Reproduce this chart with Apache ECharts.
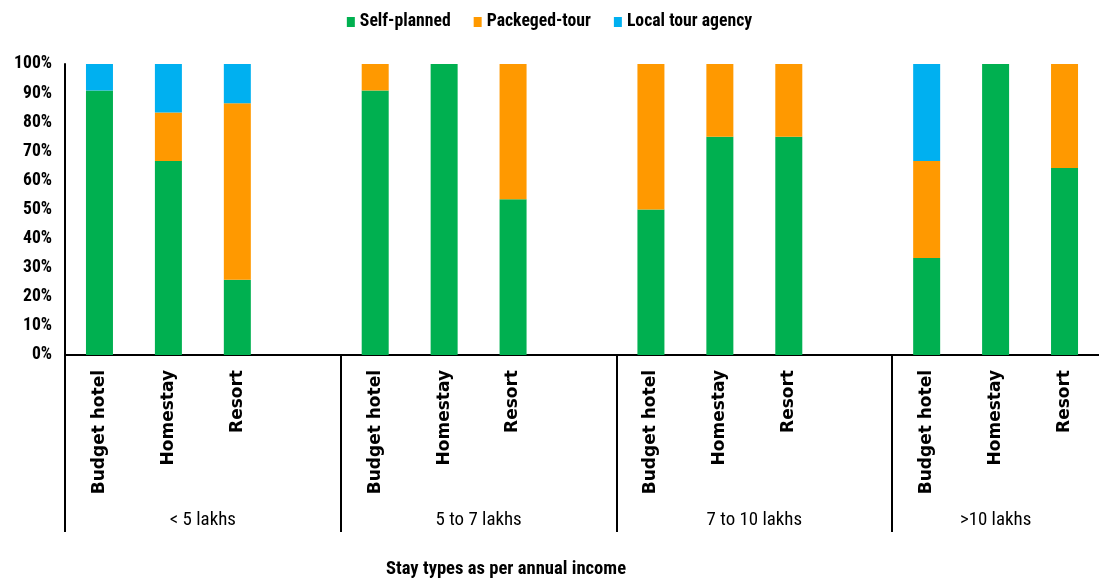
<!DOCTYPE html>
<html>
<head>
<meta charset="utf-8">
<title>Stay types as per annual income</title>
<script src="https://cdn.jsdelivr.net/npm/echarts@6/dist/echarts.min.js"></script>
<style>
  html, body { margin: 0; padding: 0; background: #fff; }
  #chart { width: 1099px; height: 583px; }
</style>
</head>
<body>
<div id="chart"></div>
<script>
// Income brackets and the stay types surveyed inside each bracket
const incomeGroups = ['< 5 lakhs', '5 to 7 lakhs', '7 to 10 lakhs', '>10 lakhs'];
const stayTypes = ['Budget hotel', 'Homestay', 'Resort'];

// Share (%) of each planning mode, listed bracket by bracket, stay type by stay type
const selfPlanned  = [90.9, 66.7, 25.9,  90.9, 100, 53.5,  50, 75, 75,  33.3, 100, 64.3];
const packagedTour = [0,    16.6, 60.6,  9.1,  0,   46.5,  50, 25, 25,  33.4, 0,   35.7];
const localAgency  = [9.1,  16.7, 13.5,  0,    0,   0,     0,  0,  0,   33.3, 0,   0];

const seriesNames = ['Self-planned', 'Packeged-tour', 'Local tour agency'];
const yTicks = [0, 10, 20, 30, 40, 50, 60, 70, 80, 90, 100];

// Build the flat category list: each bracket's stay types, with an empty slot between brackets
const categories = [];
const slotOfValue = [];
const groupStarts = [];
const groupCenters = [];
incomeGroups.forEach((g, gi) => {
  const start = categories.length;
  groupStarts.push(start);
  stayTypes.forEach((s) => {
    slotOfValue.push(categories.length);
    categories.push(s);
  });
  if (gi < incomeGroups.length - 1) categories.push('');
  groupCenters.push((start + categories.length) / 2);
});

function spread(values) {
  const out = categories.map(() => '-');
  values.forEach((v, i) => { out[slotOfValue[i]] = v; });
  return out;
}

// Pick the narrowest installed sans family for the horizontal text
const measureCtx = document.createElement('canvas').getContext('2d');
function textWidth(text, family, weight, size) {
  measureCtx.font = weight + ' ' + size + 'px ' + family;
  return measureCtx.measureText(text).width;
}
function installed(name) {
  const probe = 'Self-planned 100% lakhs';
  return ['monospace', 'serif'].some(fb =>
    Math.abs(textWidth(probe, '"' + name + '", ' + fb, 'bold', 40) - textWidth(probe, fb, 'bold', 40)) > 0.5);
}
const narrowCandidates = ['Liberation Sans Narrow', 'Arial Narrow', 'Roboto Condensed', 'DejaVu Sans Condensed', 'Liberation Sans'];
const narrowName = narrowCandidates.find(installed) || 'sans-serif';
const narrow = '"' + narrowName + '", sans-serif';
// Font size that gives a string a chosen width in the narrow family
function fitSize(text, width, weight) {
  return Math.min(19, +(18 * width / textWidth(text, narrow, weight, 18)).toFixed(1));
}
const tickSize = fitSize('100%', 38, 'bold');
const legendSize = fitSize('Self-planned', 91, 'bold');
const groupSize = fitSize('< 5 lakhs', 66, 'normal');
const titleSize = fitSize('Stay types as per annual income', 240, 'bold');

const colors = ['#00B050', '#FF9900', '#00B0F0'];
const seriesValues = [selfPlanned, packagedTour, localAgency];

const chart = echarts.init(document.getElementById('chart'), null, { renderer: 'canvas' });
chart.setOption({
  animation: false,
  backgroundColor: '#ffffff',
  color: colors,
  title: {
    text: 'Stay types as per annual income',
    left: 386,
    top: 571 - titleSize * 0.6,
    padding: 0,
    textStyle: { fontFamily: narrow, fontSize: titleSize, fontWeight: 'bold', color: '#000' }
  },
  legend: {
    top: 18 - 10,
    left: 'center',
    icon: 'rect',
    itemWidth: 8,
    itemHeight: 10,
    itemGap: 23,
    textStyle: { fontFamily: narrow, fontSize: legendSize, fontWeight: 'bold', color: '#000' },
    data: seriesNames
  },
  grid: { left: 65, right: -4, top: 64, bottom: 228, containLabel: false },
  xAxis: [
    {
      type: 'category',
      data: categories,
      boundaryGap: true,
      axisLine: { show: true, lineStyle: { color: '#000', width: 2 } },
      axisTick: { show: false },
      axisLabel: {
        interval: 0,
        rotate: 90,
        margin: 15,
        fontFamily: '"DejaVu Sans", sans-serif',
        fontSize: 17,
        fontWeight: 'bold',
        color: '#000'
      },
      splitLine: { show: false }
    },
    {
      // Bracket separators and bracket names under the stay-type labels
      type: 'value',
      position: 'bottom',
      min: 0,
      max: categories.length,
      axisLine: { show: false },
      splitLine: { show: false },
      axisTick: {
        show: true,
        customValues: groupStarts,
        length: 177,
        lineStyle: { color: '#000', width: 2 }
      },
      axisLabel: {
        show: true,
        customValues: groupCenters,
        margin: 156,
        fontFamily: narrow,
        fontSize: groupSize,
        color: '#000',
        formatter: function (v) {
          const i = groupCenters.indexOf(v);
          return i >= 0 ? incomeGroups[i] : '';
        }
      }
    }
  ],
  yAxis: {
    type: 'value',
    min: 0,
    max: 100,
    interval: 10,
    axisLine: { show: true, lineStyle: { color: '#000', width: 2 } },
    axisTick: { show: false },
    splitLine: { show: false },
    axisLabel: {
      margin: 13,
      fontFamily: narrow,
      fontSize: tickSize,
      fontWeight: 'bold',
      color: '#000',
      formatter: function (v) { return yTicks.indexOf(v) >= 0 ? v + '%' : ''; }
    }
  },
  series: seriesNames.map((name, i) => ({
    name: name,
    type: 'bar',
    stack: 'share',
    xAxisIndex: 0,
    barWidth: 27,
    itemStyle: { color: colors[i] },
    data: spread(seriesValues[i])
  }))
});
</script>
</body>
</html>
